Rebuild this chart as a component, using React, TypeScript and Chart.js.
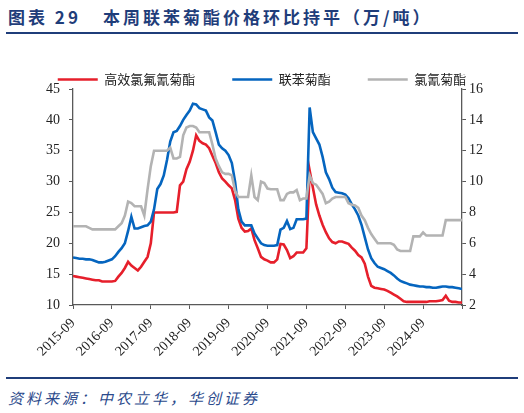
import React, { useEffect, useRef } from "react";
import { Chart, registerables } from "chart.js";

Chart.register(...registerables);

// month index 0 = 2015-09, one value per month up to 2025-09
const startMonth = "2015-09";
const xTickLabels = [
  "2015-09", "2016-09", "2017-09", "2018-09", "2019-09",
  "2020-09", "2021-09", "2022-09", "2023-09", "2024-09",
];

const seriesNames = ["高效氯氟氰菊酯", "联苯菊酯", "氯氰菊酯"];

const lambdaCyhalothrin = [
  14.7, 14.6, 14.5, 14.4, 14.3, 14.2, 14.1, 14.0, 14.0, 13.8,
  13.8, 13.8, 13.8, 13.9, 14.6, 15.2, 16.0, 17.0, 16.4, 16.0,
  15.6, 16.2, 17.0, 17.8, 20.0, 25.0, 25.0, 25.0, 25.0, 25.0,
  25.0, 25.0, 25.1, 29.4, 30.0, 32.0, 33.2, 35.0, 37.5, 36.6,
  36.2, 36.0, 35.4, 34.2, 33.0, 31.5, 30.5, 30.0, 29.4, 28.9,
  27.0, 24.0, 22.5, 21.9, 22.0, 22.4, 20.5, 19.2, 17.8, 17.4,
  17.2, 16.9, 16.9, 17.4, 19.9, 19.8, 18.9, 17.6, 17.9, 18.5,
  18.5, 18.5, 19.2, 31.8, 29.0, 26.3, 24.5, 23.0, 21.8, 20.8,
  20.2, 20.0, 20.3, 20.3, 20.1, 19.9, 19.3, 18.8, 18.1, 17.7,
  16.7, 14.6, 13.1, 12.8, 12.7, 12.6, 12.5, 12.3, 12.0, 11.7,
  11.4, 11.0, 10.6, 10.5, 10.5, 10.5, 10.5, 10.5, 10.5, 10.5,
  10.6, 10.6, 10.6, 10.7, 10.8, 11.5, 10.7, 10.5, 10.5, 10.4,
  10.4,
];

const bifenthrin = [
  17.7, 17.6, 17.5, 17.5, 17.4, 17.4, 17.3, 17.1, 16.9, 16.9,
  17.0, 17.2, 17.4, 17.9, 18.6, 19.2, 20.0, 22.0, 24.3, 22.4,
  22.4, 22.6, 22.8, 22.9, 23.5, 25.5, 28.8, 29.6, 31.0, 33.5,
  36.5, 38.0, 38.2, 39.0, 40.0, 40.8, 41.5, 42.6, 42.5, 41.9,
  41.7, 41.5, 40.4, 39.9, 38.0, 36.0, 35.4, 35.0, 34.3, 33.0,
  30.0, 25.5, 23.5, 22.9, 22.9, 22.9, 21.6, 20.8, 20.0, 19.7,
  19.6, 19.6, 19.6, 19.7, 22.2, 22.5, 23.6, 22.3, 22.5, 23.9,
  23.9, 23.9, 24.0, 42.0, 38.0, 37.0, 36.0, 34.0, 31.5, 30.4,
  29.0, 28.3, 28.2, 28.1, 27.9, 27.3, 26.3, 25.5, 24.5, 23.0,
  21.0, 19.0, 17.6, 16.8, 16.2, 16.0, 15.8, 15.5, 15.2, 14.8,
  14.3, 13.9, 13.7, 13.5, 13.3, 13.2, 13.1, 13.0, 13.0, 12.9,
  12.9, 12.8, 12.8, 12.9, 13.0, 13.0, 12.9, 12.9, 12.8, 12.7,
  12.6,
];

const cypermethrin = [
  7.1, 7.1, 7.1, 7.1, 7.1, 7.0, 6.9, 6.9, 6.9, 6.9,
  6.9, 6.9, 6.9, 6.9, 7.1, 7.3, 7.8, 8.7, 8.6, 8.4,
  8.4, 8.4, 7.8, 9.5, 11.0, 12.0, 12.0, 12.0, 12.0, 12.0,
  12.2, 11.5, 11.5, 11.6, 13.0, 13.5, 13.6, 13.6, 13.5, 13.2,
  13.2, 13.2, 13.2, 12.4, 11.5, 11.0, 10.6, 10.5, 10.5, 10.4,
  9.4, 9.0, 9.0, 9.0, 9.0, 10.4, 9.0, 8.8, 10.0, 9.9,
  9.55, 9.5, 9.5, 9.5, 8.8, 8.8, 9.2, 9.3, 9.3, 9.45,
  8.8, 8.9, 8.9, 10.4, 9.9, 9.8, 9.5, 9.2, 8.6, 8.7,
  8.9, 9.0, 9.0, 9.0, 9.0, 8.6, 8.5, 8.45, 8.3, 7.8,
  7.5, 7.0, 6.6, 6.3, 6.0, 6.0, 6.0, 6.0, 6.0, 5.9,
  5.6, 5.5, 5.5, 5.5, 5.5, 6.45, 6.45, 6.45, 6.7, 6.5,
  6.5, 6.5, 6.5, 6.5, 6.5, 7.5, 7.5, 7.5, 7.5, 7.5,
  7.5,
];

const leftTicks = { min: 10, max: 45, step: 5 };
const rightTicks = { min: 2, max: 16, step: 2 };

const RED = "#e61f2b";
const BLUE = "#0565bf";
const GRAY = "#b3b3b3";
const AXIS = "#595959";
const NAVY = "#1f3d7a";

const CANVAS_W = 524;
const CANVAS_H = 338;

function toPoints(values: number[]) {
  return values.map((v, i) => ({ x: i, y: v }));
}

const legendHeightPlugin = {
  id: "legendHeight",
  beforeLayout(chart: any) {
    const legend = chart.legend;
    if (legend && !legend.__patched) {
      const orig = legend.fit;
      legend.fit = function () {
        orig.call(this);
        this.height = 53;
      };
      legend.__patched = true;
    }
  },
};

export default function App() {
  const ref = useRef<HTMLCanvasElement | null>(null);

  useEffect(() => {
    if (!ref.current) return;
    const lastIndex = lambdaCyhalothrin.length - 1;
    const chart = new Chart(ref.current, {
      type: "line",
      data: {
        datasets: [
          {
            label: seriesNames[0],
            data: toPoints(lambdaCyhalothrin),
            borderColor: RED,
            backgroundColor: RED,
            borderWidth: 2.6,
            pointRadius: 0,
            yAxisID: "y",
            order: 3,
          },
          {
            label: seriesNames[1],
            data: toPoints(bifenthrin),
            borderColor: BLUE,
            backgroundColor: BLUE,
            borderWidth: 2.6,
            pointRadius: 0,
            yAxisID: "y",
            order: 2,
          },
          {
            label: seriesNames[2],
            data: toPoints(cypermethrin),
            borderColor: GRAY,
            backgroundColor: GRAY,
            borderWidth: 2.6,
            pointRadius: 0,
            yAxisID: "y1",
            order: 1,
          },
        ],
      },
      options: {
        responsive: false,
        animation: false,
        layout: { padding: 0 },
        plugins: {
          tooltip: { enabled: false },
          legend: {
            display: true,
            position: "top",
            labels: {
              usePointStyle: true,
              pointStyle: "line",
              pointStyleWidth: 40,
              padding: 37,
              color: "#222",
              font: { family: "'Noto Sans CJK SC'", size: 13 },
              sort: (a: any, b: any) => a.datasetIndex - b.datasetIndex,
            },
          },
        },
        scales: {
          x: {
            type: "linear",
            min: 0,
            max: lastIndex,
            afterFit: (s: any) => {
              s.height = CANVAS_H - 269;
            },
            grid: {
              drawOnChartArea: false,
              drawTicks: true,
              tickLength: 4,
              color: AXIS,
            },
            border: { display: true, color: AXIS, width: 1.3 },
            ticks: {
              stepSize: 12,
              autoSkip: false,
              minRotation: 45,
              maxRotation: 45,
              padding: 6,
              color: "#222",
              font: { family: "'Liberation Serif'", size: 14 },
              callback: (v: any) => {
                const i = Math.round(Number(v) / 12);
                return Number(v) % 12 === 0 && i < xTickLabels.length ? xTickLabels[i] : "";
              },
            },
          },
          y: {
            type: "linear",
            position: "left",
            min: leftTicks.min,
            max: leftTicks.max,
            afterFit: (s: any) => {
              s.width = 73;
            },
            grid: {
              drawOnChartArea: false,
              drawTicks: true,
              tickLength: 4,
              color: AXIS,
            },
            border: { display: true, color: AXIS, width: 1.3 },
            ticks: {
              stepSize: leftTicks.step,
              padding: 9,
              color: "#222",
              font: { family: "'Liberation Serif'", size: 14 },
            },
          },
          y1: {
            type: "linear",
            position: "right",
            min: rightTicks.min,
            max: rightTicks.max,
            afterFit: (s: any) => {
              s.width = CANVAS_W - 462;
            },
            grid: {
              drawOnChartArea: false,
              drawTicks: true,
              tickLength: 4,
              color: AXIS,
            },
            border: { display: true, color: AXIS, width: 1.3 },
            ticks: {
              stepSize: rightTicks.step,
              padding: 3,
              color: "#222",
              font: { family: "'Liberation Serif'", size: 14 },
            },
          },
        },
      },
      plugins: [legendHeightPlugin],
    });
    return () => chart.destroy();
  }, []);

  return (
    <div
      style={{
        position: "absolute",
        left: 0,
        top: 0,
        width: 524,
        height: 413,
        background: "#fff",
        overflow: "hidden",
      }}
      data-start={startMonth}
    >
      <div
        style={{
          position: "absolute",
          left: 8,
          top: 6,
          height: 21,
          lineHeight: "21px",
          fontFamily: "'Noto Sans CJK SC'",
          fontWeight: 700,
          fontSize: 17,
          letterSpacing: 3,
          color: NAVY,
          whiteSpace: "nowrap",
        }}
      >
        图表 29
      </div>
      <div
        style={{
          position: "absolute",
          left: 103,
          top: 6,
          height: 21,
          lineHeight: "21px",
          fontFamily: "'Noto Sans CJK SC'",
          fontWeight: 700,
          fontSize: 17,
          letterSpacing: 3,
          color: NAVY,
          whiteSpace: "nowrap",
        }}
      >
        本周联苯菊酯价格环比持平（万/吨）
      </div>
      <div
        style={{
          position: "absolute",
          left: 6,
          top: 32,
          width: 512,
          height: 2,
          background: NAVY,
        }}
      />
      <canvas
        ref={ref}
        width={CANVAS_W}
        height={CANVAS_H}
        style={{ position: "absolute", left: 0, top: 36, width: CANVAS_W, height: CANVAS_H }}
      />
      <div
        style={{
          position: "absolute",
          left: 6,
          top: 377,
          width: 512,
          height: 2,
          background: NAVY,
        }}
      />
      <div
        style={{
          position: "absolute",
          left: 8,
          top: 388,
          height: 20,
          lineHeight: "20px",
          fontFamily: "'Noto Sans CJK SC'",
          fontStyle: "italic",
          fontSize: 15,
          letterSpacing: 3,
          color: "#2b4a8c",
          whiteSpace: "nowrap",
        }}
      >
        资料来源：中农立华，华创证券
      </div>
    </div>
  );
}
